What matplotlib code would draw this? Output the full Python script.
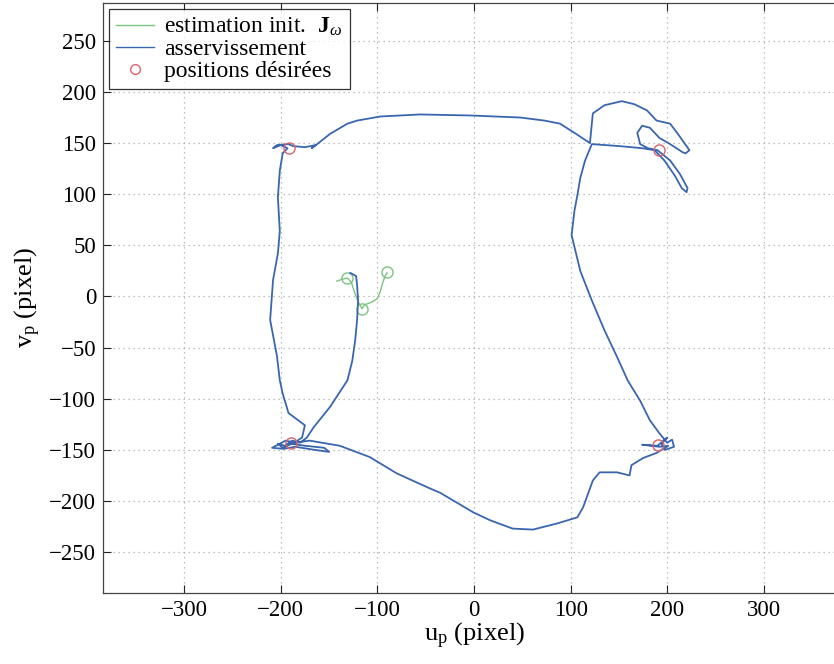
import matplotlib
matplotlib.use("Agg")
import matplotlib.pyplot as plt
from matplotlib.lines import Line2D

plt.rcParams['font.family'] = ['Liberation Serif', 'DejaVu Serif']
plt.rcParams['mathtext.fontset'] = 'custom'
plt.rcParams['mathtext.rm'] = 'Liberation Serif'
plt.rcParams['mathtext.it'] = 'Liberation Serif:italic'
plt.rcParams['mathtext.bf'] = 'Liberation Serif:bold'

# ---- data ----
green_u = [-142, -136, -131, -127, -124, -120, -117, -116, -113, -107, -103, -100, -97, -95, -92, -90]
green_v = [15, 17, 18, 14, 5, -5, -10, -12, -8, -6, -4, -2, 5, 12, 20, 23]
green_pts_u = [-131, -116, -90]
green_pts_v = [18, -12, 24]

blue_u = [-128, -122, -121, -120, -121, -123, -126, -131, -149, -166, -173, -180,
          -188, -196, -203, -198, -186, -178, -175, -185, -192, -198, -201, -204,
          -211, -208, -203, -201, -203, -201, -198, -193, -200, -208, -204, -192,
          -187, -175, -164, -168, -161, -149, -131, -121, -97, -56, -4, 48, 73,
          89, 104, 120,
          123, 135, 153, 166, 179, 189, 203, 211, 223, 219, 216, 203, 192, 182,
          174, 169, 172, 180, 190, 203, 213, 221, 220, 215, 208, 197, 187, 174,
          151, 122,
          115, 110, 107, 104, 101, 110, 122, 135, 149, 159, 172, 182, 192, 200,
          205, 207, 198, 194, 200, 190, 174, 192, 201,
          189, 175, 163, 161, 148, 130, 123, 113, 107, 86, 61, 40, 17, -1, -35,
          -45, -80, -108, -139, -170, -185, -195, -205, -209, -197, -185, -165,
          -150, -155, -175, -190]
blue_v = [23, 20, 11, -4, -23, -43, -63, -82, -108, -128, -138, -143,
          -141, -146, -144, -148, -143, -138, -126, -119, -114, -95, -82, -58,
          -23, 16, 42, 64, 97, 123, 140, 145, 148, 145, 148, 149,
          147, 146, 148, 145, 150, 159, 169, 172, 176, 178, 177, 175, 172,
          169, 160, 150,
          179, 187, 191, 188, 182, 172, 169, 159, 143, 140, 141, 149, 155, 165,
          167, 160, 149, 145, 143, 133, 120, 106, 102, 106, 118, 133, 143, 145,
          147, 149,
          133, 116, 99, 84, 60, 25, -4, -33, -61, -82, -102, -121, -134, -143,
          -140, -147, -150, -144, -138, -146, -145, -147, -146,
          -153, -158, -165, -175, -172, -172, -180, -206, -216, -222, -228, -227,
          -219, -211, -192, -188, -173, -157, -146, -141, -143, -141, -146, -148,
          -149, -147, -150, -152, -148, -146, -144]

desired_u = [-192, 191, -189, 190]
desired_v = [145, 143, -143, -145]

x_ticks = [-300, -200, -100, 0, 100, 200, 300]
y_ticks = [-250, -200, -150, -100, -50, 0, 50, 100, 150, 200, 250]

# ---- figure ----
fig = plt.figure(figsize=(8.34, 6.64), dpi=100)
ax = fig.add_axes([103/834, 1 - 593/664, (845 - 103)/834, (593 - 3)/664])

ax.plot(green_u, green_v, color='#7cc47f', lw=1.0)
ax.plot(green_pts_u, green_pts_v, 'o', mfc='none', mec='#7cc47f', ms=8, mew=1.0)
ax.plot(blue_u, blue_v, color='#3a66b0', lw=1.3)
ax.plot(desired_u, desired_v, 'o', mfc='none', mec='#d9646a', ms=8, mew=1.0)

ax.set_xlim(-384, 384)
ax.set_ylim(-290, 287)
ax.set_xticks(x_ticks)
ax.set_yticks(y_ticks)
ax.set_xticklabels(['\u2212300', '\u2212200', '\u2212100', '0', '100', '200', '300'])
ax.set_yticklabels([('\u2212' + str(-t)) if t < 0 else str(t) for t in y_ticks])
ax.tick_params(direction='in', top=True, right=False, labelsize=16.5, length=6, width=0.8,
               colors='#222222', labelcolor='black', pad=5)
ax.grid(True, linestyle=(0, (1, 3)), color='#aaaaaa', lw=0.9)
for s in ax.spines.values():
    s.set_color('#444444')
    s.set_linewidth(0.9)
ax.spines['right'].set_visible(False)

ax.set_xlabel(r'u$_{\mathrm{p}}$ (pixel)', fontsize=19, labelpad=0)
ax.set_ylabel(r'v$_{\mathrm{p}}$ (pixel)', fontsize=19, labelpad=4)

handles = [Line2D([], [], color='#7cc47f', lw=1.0),
           Line2D([], [], color='#3a66b0', lw=1.0),
           Line2D([], [], ls='none', marker='o', mfc='none', mec='#d9646a', ms=7)]
labels = [r'estimation init.  $\mathbf{J}_{\omega}$', 'asservissement', 'positions désirées']
leg = ax.legend(handles, labels, loc='upper left', fontsize=17, frameon=True,
                fancybox=False, edgecolor='black', borderaxespad=0.25,
                handlelength=1.6, handletextpad=0.45, labelspacing=0.02,
                borderpad=0.3)
leg.get_frame().set_linewidth(0.9)

fig.savefig('out.png', dpi=100)
